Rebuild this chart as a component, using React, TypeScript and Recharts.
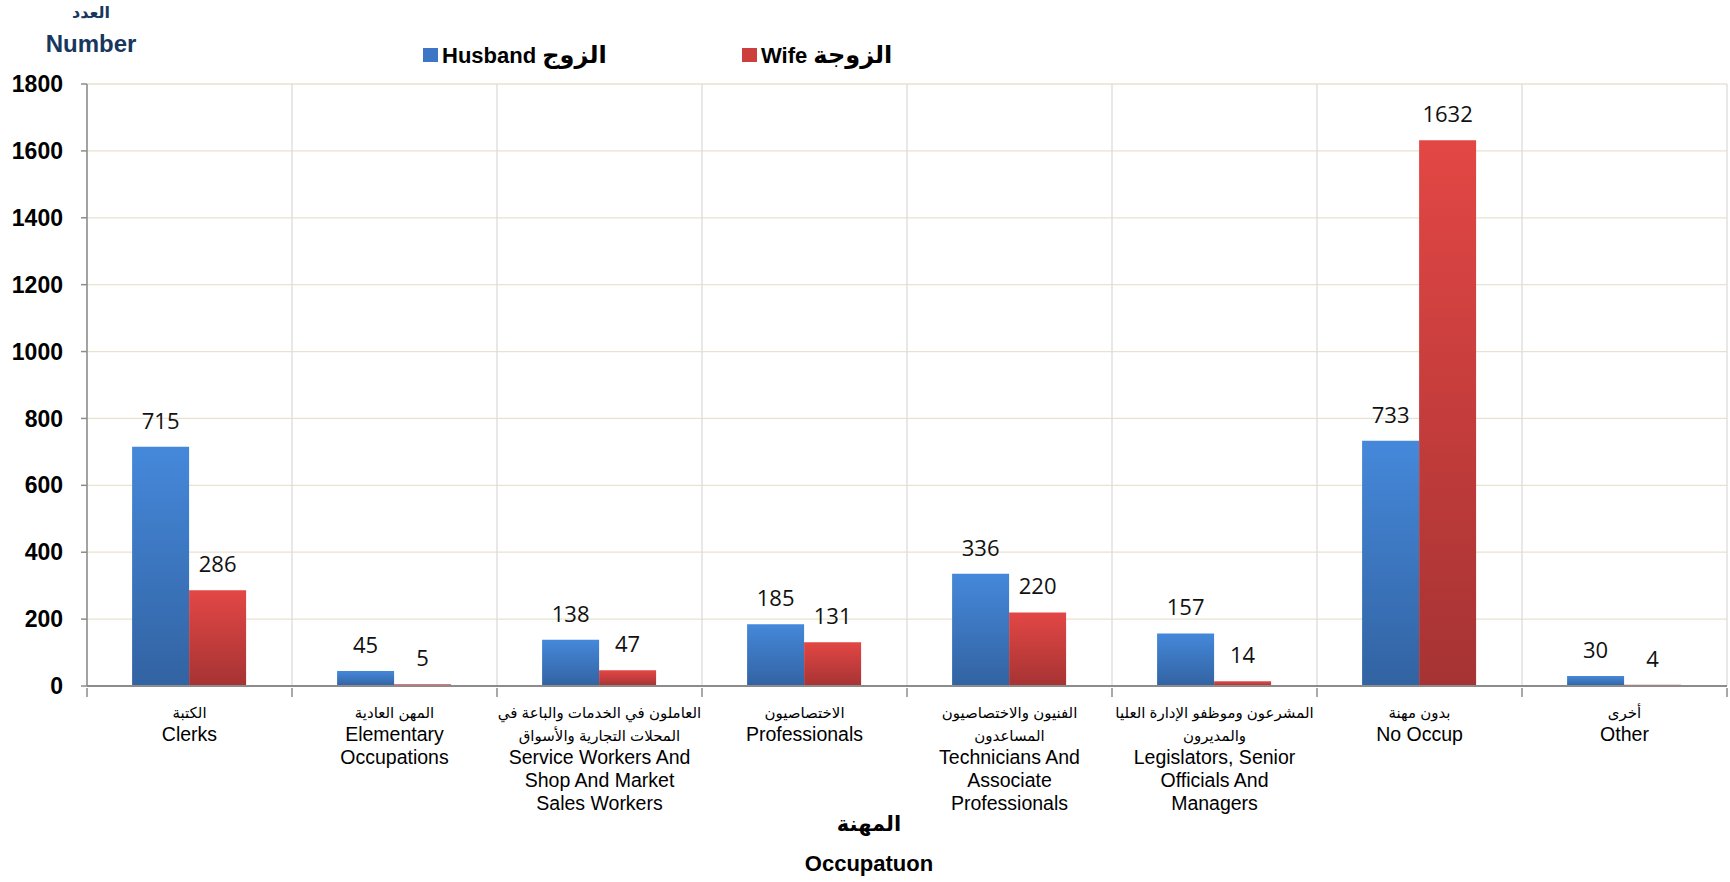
import React from 'react';
import {
  BarChart,
  Bar,
  XAxis,
  YAxis,
  CartesianGrid,
  LabelList
} from 'recharts';

// Occupation categories (Arabic lines, English lines)
const categoriesAr: string[][] = [
  ['الكتبة'],
  ['المهن العادية'],
  ['العاملون في الخدمات والباعة في', 'المحلات التجارية والأسواق'],
  ['الاختصاصيون'],
  ['الفنيون والاختصاصيون', 'المساعدون'],
  ['المشرعون وموظفو الإدارة العليا', 'والمديرون'],
  ['بدون مهنة'],
  ['أخرى']
];

const categoriesEn: string[][] = [
  ['Clerks'],
  ['Elementary', 'Occupations'],
  ['Service Workers And', 'Shop And Market', 'Sales Workers'],
  ['Professionals'],
  ['Technicians And', 'Associate', 'Professionals'],
  ['Legislators, Senior', 'Officials And', 'Managers'],
  ['No Occup'],
  ['Other']
];

const husbandValues = [715, 45, 138, 185, 336, 157, 733, 30];
const wifeValues = [286, 5, 47, 131, 220, 14, 1632, 4];

const yTicks = [0, 200, 400, 600, 800, 1000, 1200, 1400, 1600, 1800];

const categoryNames = categoriesEn.map(en => en.join(' '));

const data = categoryNames.map((name, i) => ({
  name,
  husband: husbandValues[i],
  wife: wifeValues[i]
}));

const AXIS_GRAY = '#8c8c8c';
const FONT = 'Arial, "Liberation Sans", "DejaVu Sans", sans-serif';

const CategoryTick = (props: any) => {
  const { x, y, payload } = props;
  const idx = categoryNames.indexOf(payload?.value);
  const half = payload?.offset || 0;
  const ar = categoriesAr[idx] || [];
  const en = categoriesEn[idx] || [];
  const lines = [
    ...ar.map(t => ({ t, ar: true })),
    ...en.map(t => ({ t, ar: false }))
  ];
  return (
    <g>
      {/* tick marks on category boundaries */}
      <line x1={x - half} x2={x - half} y1={y} y2={y + 9} stroke={AXIS_GRAY} strokeWidth={1.5} />
      {idx === categoryNames.length - 1 && (
        <line x1={x + half} x2={x + half} y1={y} y2={y + 9} stroke={AXIS_GRAY} strokeWidth={1.5} />
      )}
      {lines.map((l, i) => (
        <text
          key={i}
          x={x}
          y={y + 30 + i * 23}
          textAnchor="middle"
          fontFamily={FONT}
          fontSize={l.ar ? 15 : 19.5}
          fill="#000"
        >
          {l.t}
        </text>
      ))}
    </g>
  );
};

// vertical grid lines sit on the category boundaries
const boundaryLines = ({ offset }: any) =>
  categoryNames
    .concat([''])
    .map((_, i) => offset.left + (i * offset.width) / categoryNames.length);

const titleStyle: React.CSSProperties = {
  position: 'absolute',
  textAlign: 'center',
  fontFamily: FONT,
  fontWeight: 'bold',
  whiteSpace: 'nowrap'
};

const App: React.FC = () => {
  return (
    <div style={{ position: 'absolute', left: 0, top: 0, width: 1730, height: 882, background: '#fff' }}>
      {/* y axis title */}
      <div style={{ ...titleStyle, left: 41, top: 3, width: 100, fontSize: 16, color: '#17375e' }}>العدد</div>
      <div style={{ ...titleStyle, left: 41, top: 30, width: 100, fontSize: 24, color: '#17375e' }}>Number</div>
      {/* legend */}
      <div style={{ position: 'absolute', left: 423, top: 48, width: 15, height: 14, background: '#3c76c4' }} />
      <div style={{ ...titleStyle, left: 442, top: 41, fontSize: 22, color: '#000' }}>
        Husband <span style={{ fontSize: 24 }}>الزوج</span>
      </div>
      <div style={{ position: 'absolute', left: 742, top: 48, width: 15, height: 14, background: '#cc3f3d' }} />
      <div style={{ ...titleStyle, left: 761, top: 41, fontSize: 22, color: '#000' }}>
        Wife <span style={{ fontSize: 24 }}>الزوجة</span>
      </div>
      {/* x axis title */}
      <div style={{ ...titleStyle, left: 769, top: 812, width: 200, fontSize: 21, color: '#000' }}>المهنة</div>
      <div style={{ ...titleStyle, left: 769, top: 851, width: 200, fontSize: 22, color: '#000' }}>Occupatuon</div>
      <BarChart
        width={1730}
        height={882}
        data={data}
        margin={{ top: 84, right: 3, bottom: 195, left: 0 }}
        barCategoryGap="22%"
        barGap={0}
      >
        <defs>
          <linearGradient id="gradHusband" x1="0" y1="0" x2="0" y2="1">
            <stop offset="0%" stopColor="#4588da" />
            <stop offset="100%" stopColor="#3263a2" />
          </linearGradient>
          <linearGradient id="gradWife" x1="0" y1="0" x2="0" y2="1">
            <stop offset="0%" stopColor="#e24745" />
            <stop offset="100%" stopColor="#a63333" />
          </linearGradient>
        </defs>
        <CartesianGrid horizontal={true} vertical={false} stroke="#e8e2cf" strokeWidth={1.3} />
        <CartesianGrid
          horizontal={false}
          vertical={true}
          verticalCoordinatesGenerator={boundaryLines}
          stroke="#dcdcdc"
          strokeWidth={1.3}
        />
        <XAxis
          dataKey="name"
          height={1}
          tickLine={false}
          tickSize={0}
          axisLine={{ stroke: AXIS_GRAY, strokeWidth: 2 }}
          interval={0}
          tick={<CategoryTick />}
        />
        <YAxis
          width={87}
          domain={[0, 1800]}
          ticks={yTicks}
          interval={0}
          tickSize={6}
          tickMargin={18}
          axisLine={{ stroke: AXIS_GRAY, strokeWidth: 1.5 }}
          tickLine={{ stroke: AXIS_GRAY, strokeWidth: 1.5 }}
          tick={{ fontFamily: FONT, fontWeight: 'bold', fontSize: 23, fill: '#000' }}
        />
        <Bar dataKey="husband" name="Husband الزوج" fill="url(#gradHusband)" isAnimationActive={false}>
          <LabelList dataKey="husband" position="top" offset={18} fill="#111" fontSize={22} fontFamily='"Open Sans", sans-serif' />
        </Bar>
        <Bar dataKey="wife" name="Wife الزوجة" fill="url(#gradWife)" isAnimationActive={false}>
          <LabelList dataKey="wife" position="top" offset={18} fill="#111" fontSize={22} fontFamily='"Open Sans", sans-serif' />
        </Bar>
      </BarChart>
    </div>
  );
};

export default App;
